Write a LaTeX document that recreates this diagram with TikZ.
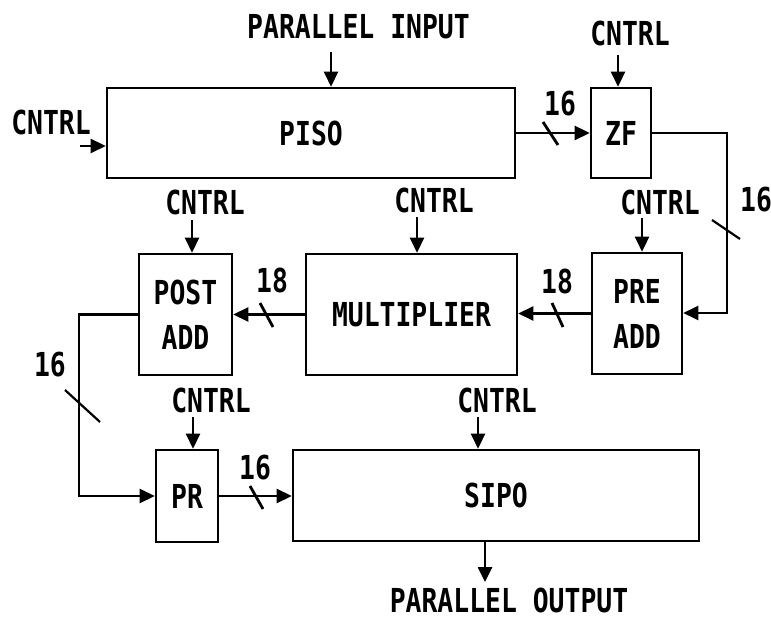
\documentclass[tikz,border=0pt]{standalone}
\usepackage{fontspec}
\newfontfamily\lblfont[FakeStretch=0.8]{DejaVu Sans Mono}
\usetikzlibrary{arrows.meta}
\begin{document}
\begin{tikzpicture}[x=1pt,y=-1pt,
  lbl/.style={font=\lblfont\bfseries\fontsize{33}{45}\selectfont, inner sep=0pt, align=center},
  blk/.style={draw, line width=2.6pt, lbl},
  arr/.style={line width=2.6pt, -{Triangle[length=15pt,width=14pt]}},
  busmark/.style={line width=2.8pt}
]
\useasboundingbox (0,0) rectangle (771,620);

% blocks
\node[blk, minimum width=408pt, minimum height=90pt] (piso) at (311,133) {PISO};
\node[blk, minimum width=60pt, minimum height=90pt] (zf) at (621,133) {ZF};
\node[blk, minimum width=90pt, minimum height=121pt] (preadd) at (637,313.5) {PRE\\ADD};
\node[blk, minimum width=211pt, minimum height=121pt] (mult) at (411.5,314.5) {MULTIPLIER};
\node[blk, minimum width=93pt, minimum height=121pt] (postadd) at (185.5,314.5) {POST\\ADD};
\node[blk, minimum width=62pt, minimum height=92pt] (pr) at (187,496) {PR};
\node[blk, minimum width=406pt, minimum height=91pt] (sipo) at (496,495.5) {SIPO};

% text labels
\node[lbl] (pin) at (358.5,27) {PARALLEL INPUT};
\node[lbl] (pout) at (509,600) {PARALLEL OUTPUT};
\node[lbl] (c0) at (51,122) {CNTRL};
\node[lbl] (c1) at (630,33) {CNTRL};
\node[lbl] (c2) at (660,202) {CNTRL};
\node[lbl] (c3) at (434,200) {CNTRL};
\node[lbl] (c4) at (205,202) {CNTRL};
\node[lbl] (c5) at (211,400) {CNTRL};
\node[lbl] (c6) at (497,400) {CNTRL};

\node[lbl] (w1) at (560,104) {16};
\node[lbl] (w2) at (756,200) {16};
\node[lbl] (w3) at (557,281) {18};
\node[lbl] (w4) at (272,280) {18};
\node[lbl] (w5) at (50,365) {16};
\node[lbl] (w6) at (255,468) {16};

% control arrows
\coordinate (a0) at (80,146);
\coordinate (a1) at (618,55);
\coordinate (a2) at (642,218);
\coordinate (a3) at (417,217);
\coordinate (a4) at (192,220);
\coordinate (a5) at (193,417);
\coordinate (a6) at (478,417);
\coordinate (ain) at (331,52);
\coordinate (aout) at (485,582);
\draw[arr] (a0) -- (a0 -| piso.west);
\draw[arr] (a1) -- (a1 |- zf.north);
\draw[arr] (a2) -- (a2 |- preadd.north);
\draw[arr] (a3) -- (a3 |- mult.north);
\draw[arr] (a4) -- (a4 |- postadd.north);
\draw[arr] (a5) -- (a5 |- pr.north);
\draw[arr] (a6) -- (a6 |- sipo.north);
\draw[arr] (ain) -- (ain |- piso.north);
\draw[arr] (aout |- sipo.south) -- (aout);

% data paths
\coordinate (rx) at (727,313);
\coordinate (lx) at (79,496);
\draw[arr] (piso.east) -- (zf.west);
\draw[arr] (zf.east) -| (rx) -- (rx -| preadd.east);
\draw[arr] (preadd.west) -- (preadd.west -| mult.east);
\draw[arr] (mult.west) -- (mult.west -| postadd.east);
\draw[arr] (postadd.west) -| (lx) -- (lx -| pr.west);
\draw[arr] (pr.east) -- (pr.east -| sipo.west);

% bus width slashes
\draw[busmark] (543,122) -- (558,145);
\draw[busmark] (552,303) -- (563,327);
\draw[busmark] (260,303) -- (273,327);
\draw[busmark] (250,486) -- (263,509);
\draw[busmark, line width=2.2pt] (712,220) -- (740,239);
\draw[busmark, line width=2.2pt] (65,390) -- (100,422);
\end{tikzpicture}
\end{document}
